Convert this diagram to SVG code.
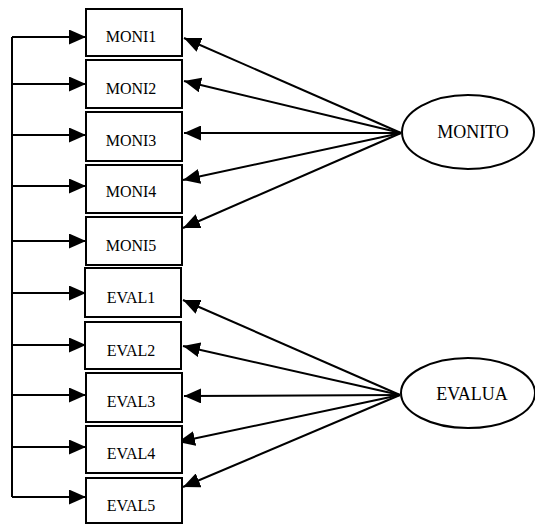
<svg xmlns="http://www.w3.org/2000/svg" width="535" height="525" viewBox="0 0 535 525">
  <style>
    .box { fill: #ffffff; stroke: #000000; stroke-width: 2; }
    .lat { fill: #ffffff; stroke: #000000; stroke-width: 2; }
    .lbl { font-family: "Liberation Serif", "Times New Roman", serif; font-size: 16px; fill: #000000; text-anchor: middle; }
    .lbl-lat { font-family: "Liberation Serif", "Times New Roman", serif; font-size: 18px; fill: #000000; text-anchor: middle; }
    .edge { fill: none; stroke: #000000; stroke-width: 2; }
  </style>
  <defs>
    <marker id="arrow" viewBox="0 0 17 15" refX="17" refY="7.5" markerWidth="17" markerHeight="15" markerUnits="userSpaceOnUse" orient="auto">
      <path d="M0,0 L17,7.5 L0,15 Z" fill="#000000"/>
    </marker>
  </defs>

  <!-- connectors -->
  <g id="connectors">
    <!-- shared left rail -->
    <path class="edge" d="M12,37 V497"/>
    <line class="edge" x1="12" y1="37" x2="86" y2="37" marker-end="url(#arrow)"/>
    <line class="edge" x1="12" y1="84" x2="86" y2="84" marker-end="url(#arrow)"/>
    <line class="edge" x1="12" y1="135" x2="86" y2="135" marker-end="url(#arrow)"/>
    <line class="edge" x1="12" y1="186" x2="86" y2="186" marker-end="url(#arrow)"/>
    <line class="edge" x1="12" y1="241" x2="86" y2="241" marker-end="url(#arrow)"/>
    <line class="edge" x1="12" y1="293" x2="86" y2="293" marker-end="url(#arrow)"/>
    <line class="edge" x1="12" y1="345" x2="86" y2="345" marker-end="url(#arrow)"/>
    <line class="edge" x1="12" y1="395" x2="86" y2="395" marker-end="url(#arrow)"/>
    <line class="edge" x1="12" y1="447" x2="86" y2="447" marker-end="url(#arrow)"/>
    <line class="edge" x1="12" y1="497" x2="86" y2="497" marker-end="url(#arrow)"/>

    <!-- MONITO loadings -->
    <line class="edge" x1="401" y1="133" x2="184" y2="38" marker-end="url(#arrow)"/>
    <line class="edge" x1="401" y1="133" x2="184" y2="81" marker-end="url(#arrow)"/>
    <line class="edge" x1="401" y1="133" x2="184" y2="133" marker-end="url(#arrow)"/>
    <line class="edge" x1="401" y1="133" x2="183" y2="180" marker-end="url(#arrow)"/>
    <line class="edge" x1="401" y1="133" x2="183" y2="228" marker-end="url(#arrow)"/>

    <!-- EVALUA loadings -->
    <line class="edge" x1="400" y1="395" x2="183" y2="300" marker-end="url(#arrow)"/>
    <line class="edge" x1="400" y1="395" x2="183" y2="346" marker-end="url(#arrow)"/>
    <line class="edge" x1="400" y1="395" x2="184" y2="396" marker-end="url(#arrow)"/>
    <line class="edge" x1="400" y1="395" x2="178" y2="442" marker-end="url(#arrow)"/>
    <line class="edge" x1="400" y1="395" x2="183" y2="487" marker-end="url(#arrow)"/>
  </g>

  <!-- observed indicators -->
  <g id="MONI1"><rect class="box" x="86" y="9" width="96" height="47"/><text class="lbl" x="131" y="42">MONI1</text></g>
  <g id="MONI2"><rect class="box" x="86" y="60" width="96" height="48"/><text class="lbl" x="131" y="94">MONI2</text></g>
  <g id="MONI3"><rect class="box" x="86" y="112" width="96" height="49"/><text class="lbl" x="131" y="146">MONI3</text></g>
  <g id="MONI4"><rect class="box" x="86" y="165" width="96" height="48"/><text class="lbl" x="131" y="197">MONI4</text></g>
  <g id="MONI5"><rect class="box" x="86" y="217" width="96" height="48"/><text class="lbl" x="131" y="251">MONI5</text></g>
  <g id="EVAL1"><rect class="box" x="85" y="268" width="96" height="49"/><text class="lbl" x="131" y="303">EVAL1</text></g>
  <g id="EVAL2"><rect class="box" x="85" y="322" width="96" height="47"/><text class="lbl" x="131" y="356">EVAL2</text></g>
  <g id="EVAL3"><rect class="box" x="86" y="373" width="96" height="49"/><text class="lbl" x="131" y="407">EVAL3</text></g>
  <g id="EVAL4"><rect class="box" x="86" y="426" width="96" height="47"/><text class="lbl" x="131" y="459">EVAL4</text></g>
  <g id="EVAL5"><rect class="box" x="86" y="478" width="96" height="45"/><text class="lbl" x="131" y="511">EVAL5</text></g>

  <!-- latent factors -->
  <g id="MONITO"><ellipse class="lat" cx="468" cy="132" rx="66" ry="37"/><text class="lbl-lat" x="473" y="138">MONITO</text></g>
  <g id="EVALUA"><ellipse class="lat" cx="468" cy="393" rx="67" ry="35"/><text class="lbl-lat" x="472" y="400">EVALUA</text></g>
</svg>
